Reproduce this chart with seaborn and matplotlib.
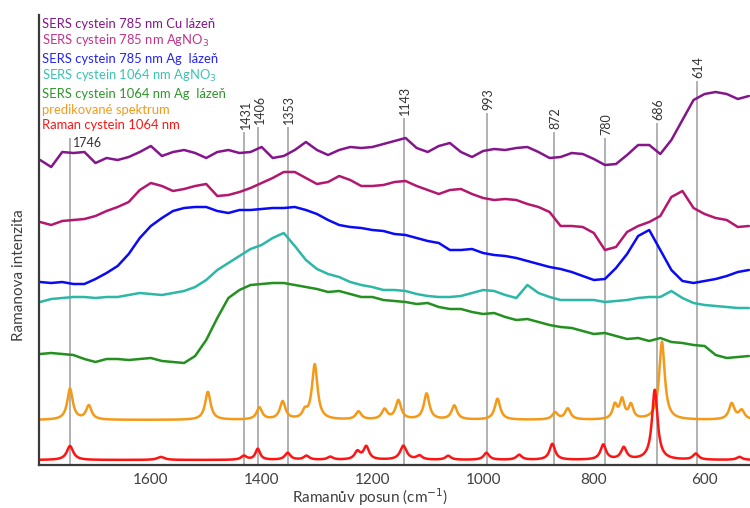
import numpy as np
import pandas as pd
import matplotlib
matplotlib.use("Agg")
import matplotlib.pyplot as plt
import seaborn as sns

# ---------------------------------------------------------------------------
# Spectra (Raman shift in cm-1, intensity in arbitrary stacked units)
# ---------------------------------------------------------------------------
series_labels = [
    "SERS cystein 785 nm Cu lázeň",
    "SERS cystein 785 nm AgNO$_3$",
    "SERS cystein 785 nm Ag  lázeň",
    "SERS cystein 1064 nm AgNO$_3$",
    "SERS cystein 1064 nm Ag  lázeň",
    "predikované spektrum",
    "Raman cystein 1064 nm",
]
line_colors = ["#84168C", "#B3186F", "#0A0AF5", "#2DB7A6", "#23901F", "#F39A19", "#FF1414"]
text_colors = ["#84168C", "#C2338A", "#2424F0", "#3CC2B2", "#2E962A", "#F39A19", "#FF1414"]

# broad SERS spectra, sampled every 20 cm-1 from 1800 down to 520
shift_sers = np.arange(1800, 519, -20)

sers_cu_785 = [305, 298, 313, 312, 313, 302, 307, 305, 308, 313,
               319, 309, 313, 315, 312, 307, 313, 315, 312, 313,
               318, 307, 309, 315, 323, 315, 310, 315, 318, 317,
               318, 321, 324, 327, 317, 313, 319, 322, 313, 308,
               314, 316, 315, 317, 318, 313, 307, 308, 312, 311,
               306, 300, 301, 310, 320, 320, 311, 325, 345, 365,
               371, 373, 371, 366, 369]
sers_agno3_785 = [243, 240, 244, 245, 246, 249, 254, 258, 263, 275,
                  282, 279, 274, 276, 279, 281, 269, 270, 273, 277,
                  282, 287, 293, 293, 287, 281, 283, 289, 285, 279,
                  279, 280, 283, 284, 279, 275, 271, 275, 276, 271,
                  267, 265, 266, 265, 261, 258, 253, 239, 239, 238,
                  232, 215, 218, 233, 239, 243, 249, 268, 274, 257,
                  251, 247, 245, 238, 239]
sers_ag_785 = [183, 182, 183, 181, 181, 186, 192, 199, 211, 227,
               239, 247, 254, 257, 258, 258, 254, 252, 255, 255,
               256, 257, 257, 258, 255, 251, 245, 240, 238, 237,
               235, 234, 231, 230, 227, 224, 222, 215, 215, 216,
               212, 210, 209, 207, 204, 201, 198, 196, 193, 189,
               185, 186, 197, 211, 229, 235, 215, 195, 184, 182,
               184, 186, 189, 193, 195]
sers_agno3_1064 = [163, 166, 167, 168, 168, 167, 168, 168, 170, 172,
                   171, 170, 172, 174, 178, 185, 195, 202, 209, 216,
                   220, 227, 232, 219, 205, 196, 191, 188, 183, 180,
                   178, 175, 175, 174, 171, 169, 168, 168, 169, 172,
                   175, 174, 170, 167, 180, 172, 168, 165, 165, 165,
                   165, 163, 164, 165, 167, 168, 168, 174, 167, 162,
                   160, 159, 158, 157, 157]
sers_ag_1064 = [111, 112, 111, 110, 106, 103, 106, 106, 105, 106,
                107, 104, 103, 102, 109, 125, 147, 167, 175, 180,
                181, 182, 182, 180, 178, 176, 173, 174, 171, 168,
                168, 165, 164, 163, 161, 162, 158, 156, 156, 153,
                151, 152, 148, 145, 146, 143, 140, 138, 137, 134,
                131, 132, 129, 126, 127, 124, 127, 123, 122, 120,
                119, 110, 107, 108, 109]

# line spectra given as peak tables (position, height above baseline, half width)
pred_baseline = 45
pred_pos = [1746, 1712, 1497, 1404, 1362, 1322, 1304, 1225, 1178, 1153, 1102,
            1052, 974, 870, 847, 762, 749, 733, 677, 551, 533]
pred_height = [31, 14, 28, 12, 18, 7, 55, 8, 10, 19, 26,
               14, 21, 7, 11, 14, 19, 14, 78, 16, 9]
pred_width = [6, 6, 6, 6, 6, 5, 6, 6, 6, 6, 6,
              6, 6, 6, 6, 5, 5, 5, 6, 6, 6]

raman_baseline = 5
raman_pos = [1746, 1582, 1432, 1407, 1353, 1319, 1276, 1227, 1211, 1144, 1115,
             1063, 994, 935, 875, 783, 746, 690, 616, 537]
raman_height = [14, 3, 4, 11, 7, 4, 3, 8, 13, 14, 4,
                4, 7, 5, 16, 15, 12, 70, 6, 3]
raman_width = [7, 8, 6, 5, 6, 6, 6, 6, 6, 7, 6,
               6, 6, 6, 6, 6, 6, 6, 6, 6]

# assigned bands: label position and top of the marker line
band_labels = ["1746", "1431", "1406", "1353", "1143", "993", "872", "780", "686", "614"]
band_pos = [1746, 1431, 1406, 1353, 1143, 993, 872, 780, 686, 614]
band_top = [327, 333, 338, 338, 347, 352, 333, 327, 342, 384]

x_ticks = [1600, 1400, 1200, 1000, 800, 600]


def line_spectrum(grid, baseline, pos, height, width):
    p = np.asarray(pos, float)[:, None]
    h = np.asarray(height, float)[:, None]
    w = np.asarray(width, float)[:, None]
    return baseline + (h / (1.0 + ((grid[None, :] - p) / w) ** 2)).sum(axis=0)


fine_grid = np.linspace(1802, 518, 2600)

frames = []
for label, values in zip(series_labels[:5],
                         [sers_cu_785, sers_agno3_785, sers_ag_785,
                          sers_agno3_1064, sers_ag_1064]):
    frames.append(pd.DataFrame({"shift": shift_sers, "intensity": values, "series": label}))
frames.append(pd.DataFrame({
    "shift": fine_grid,
    "intensity": line_spectrum(fine_grid, pred_baseline, pred_pos, pred_height, pred_width),
    "series": series_labels[5]}))
frames.append(pd.DataFrame({
    "shift": fine_grid,
    "intensity": line_spectrum(fine_grid, raman_baseline, raman_pos, raman_height, raman_width),
    "series": series_labels[6]}))
spectra = pd.concat(frames, ignore_index=True)

# ---------------------------------------------------------------------------
sns.set_theme(style="white")
plt.rcParams["font.family"] = ["Lato", "DejaVu Sans"]
plt.rcParams["mathtext.fontset"] = "dejavusans"

fig = plt.figure(figsize=(7.5, 5.08), dpi=100)
ax = fig.add_axes([39 / 750, 1 - 465 / 508, 1 - 39 / 750, 450 / 508])

# band marker lines behind the spectra
for lab, pos, top in zip(band_labels, band_pos, band_top):
    ax.vlines(pos, 0, top, color="#9c9c9c", linewidth=1.1, zorder=1)
    if lab == "1746":
        ax.annotate(lab, xy=(pos, top), xytext=(2, 1), textcoords="offset points",
                    ha="left", va="top", fontsize=9, color="#333333")
    else:
        ax.annotate(lab, xy=(pos, top), xytext=(1, 2), textcoords="offset points",
                    ha="center", va="bottom", rotation=90, fontsize=9, color="#333333")

sns.lineplot(data=spectra, x="shift", y="intensity", hue="series",
             hue_order=series_labels, palette=dict(zip(series_labels, line_colors)),
             estimator=None, sort=False, linewidth=1.8, ax=ax, zorder=2)

handles, labels = ax.get_legend_handles_labels()
ax.legend(handles, labels, loc="upper left", bbox_to_anchor=(0.004, 0.994),
          frameon=False, handlelength=0, handletextpad=0, borderpad=0,
          borderaxespad=0, labelspacing=0.27, fontsize=9.4, labelcolor=text_colors)

ax.set_xlim(1802, 518)
ax.set_ylim(0, 450)
ax.set_yticks([])
ax.set_xticks(x_ticks)
ax.set_xticklabels([str(t) for t in x_ticks])
ax.tick_params(axis="x", length=0, pad=6, labelsize=11, labelcolor="#404040")

ax.set_xlabel("Ramanův posun (cm$^{-1}$)", fontsize=11, color="#404040")
ax.xaxis.set_label_coords(0.466, -0.047)
ax.set_ylabel("Ramanova intenzita", fontsize=11, color="#404040")
ax.yaxis.set_label_coords(-0.018, 0.422)

sns.despine(ax=ax)
for side in ("left", "bottom"):
    ax.spines[side].set_color("#3a3a3a")
    ax.spines[side].set_linewidth(1.6)

fig.savefig("out.png", dpi=100)
